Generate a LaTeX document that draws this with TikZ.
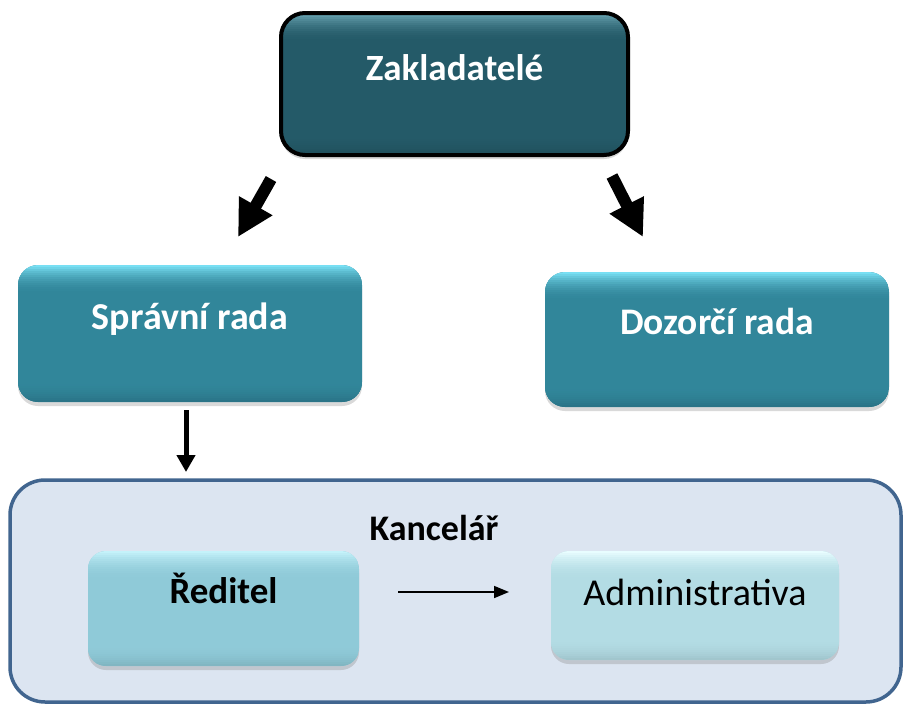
\documentclass[tikz,border=0pt]{standalone}
\usepackage{fontspec}
\setmainfont{Carlito}
\usetikzlibrary{arrows.meta,shadows}
\definecolor{zakfill}{HTML}{245A68}
\definecolor{zaktop}{HTML}{6AA5B3}
\definecolor{radafill}{HTML}{31869A}
\definecolor{radatop}{HTML}{78DFF3}
\definecolor{radabot}{HTML}{2A7487}
\definecolor{redfill}{HTML}{8FCAD8}
\definecolor{redtop}{HTML}{C4F2FA}
\definecolor{admfill}{HTML}{B3DCE4}
\definecolor{admtop}{HTML}{E8FDFF}
\definecolor{kancfill}{HTML}{DCE5F1}
\definecolor{kancline}{HTML}{41658F}
\begin{document}
\begin{tikzpicture}[x=1pt,y=1pt,
  bigfont/.style={font=\fontsize{#1}{40}\selectfont\bfseries},
  bigfont/.default=36,
  shine/.style n args={3}{path picture={
      \foreach \i in {0,...,13}{
        \pgfmathtruncatemacro\p{100*(1-\i/14)^2}
        \fill[#1!\p!#2, sharp corners] ([yshift={-2pt*\i}]path picture bounding box.north west) rectangle ([yshift={-2pt*\i-2.6pt}]path picture bounding box.north east);
      }
      \foreach \i in {0,...,9}{
        \pgfmathtruncatemacro\p{100*(1-\i/10)^2}
        \fill[#3!\p!#2, sharp corners] ([yshift={2pt*\i}]path picture bounding box.south west) rectangle ([yshift={2pt*\i+2.6pt}]path picture bounding box.south east);
      }}},
  orgbox/.style={rounded corners=20pt, inner sep=0pt, align=center,
     drop shadow={opacity=0.3,shadow xshift=0pt,shadow yshift=-4pt}},
  bigarrow/.style={line width=12pt, -{Triangle[length=36pt,width=36pt]}},
  midarrow/.style={line width=5pt, -{Triangle[length=17pt,width=18pt]}},
  thinarrow/.style={line width=1.6pt, -{Triangle[length=15pt,width=12pt]}}
]
\useasboundingbox (0,0) rectangle (905,-704);

% Kancelar container
\node[draw=kancline, line width=3.5pt, fill=kancfill, rounded corners=35pt,
      minimum width=891pt, minimum height=222pt, inner sep=0pt] (kanc) at (455.5,-591) {};
\node[bigfont, text=black, anchor=base] (kanctext) at (434,-540) {Kancelář};

% Top box
\node[orgbox, bigfont=37, draw=black, line width=4pt, fill=zakfill, rounded corners=24pt,
      shine={zaktop}{zakfill}{zakfill!88!black},
      minimum width=347pt, text height=67pt, text depth=75pt, text=white] (zak) at (454.5,-84) {Zakladatelé};

% Second row
\node[orgbox, bigfont=38, fill=radafill, shine={radatop}{radafill}{radabot},
      minimum width=344pt, text height=64pt, text depth=73pt, text=white] (spr) at (190,-333.5) {Správní rada};
\node[orgbox, bigfont=37.5, fill=radafill, shine={radatop}{radafill}{radabot},
      minimum width=344pt, text height=62pt, text depth=73pt, text=white] (doz) at (717,-339.5) {Dozorčí rada};

% Inside Kancelar
\node[orgbox, bigfont=37, fill=redfill, rounded corners=18pt, shine={redtop}{redfill}{redfill!90!black},
      minimum width=271pt, text height=52pt, text depth=63pt, text=black] (red) at (223.5,-608.5) {Ředitel};
\node[orgbox, fill=admfill, rounded corners=18pt, shine={admtop}{admfill}{admfill!90!black},
      font=\fontsize{38}{40}\selectfont\mdseries,
      minimum width=288pt, text height=54pt, text depth=55pt, text=black] (adm) at (695,-605.5) {Administrativa};

% Connectors
\coordinate (zl) at (271,-179);
\coordinate (sl) at (238,-237);
\coordinate (zr) at (612,-176);
\coordinate (dr) at (643,-237);
\draw[bigarrow] (zl) -- (sl);
\draw[bigarrow] (zr) -- (dr);

\coordinate (sb) at (186,-410);
\coordinate (kt) at (186,-472);
\draw[midarrow] (sb) -- (kt);

\coordinate (ra) at (398,-592);
\coordinate (ab) at (509,-592);
\draw[thinarrow] (ra) -- (ab);
\end{tikzpicture}
\end{document}
